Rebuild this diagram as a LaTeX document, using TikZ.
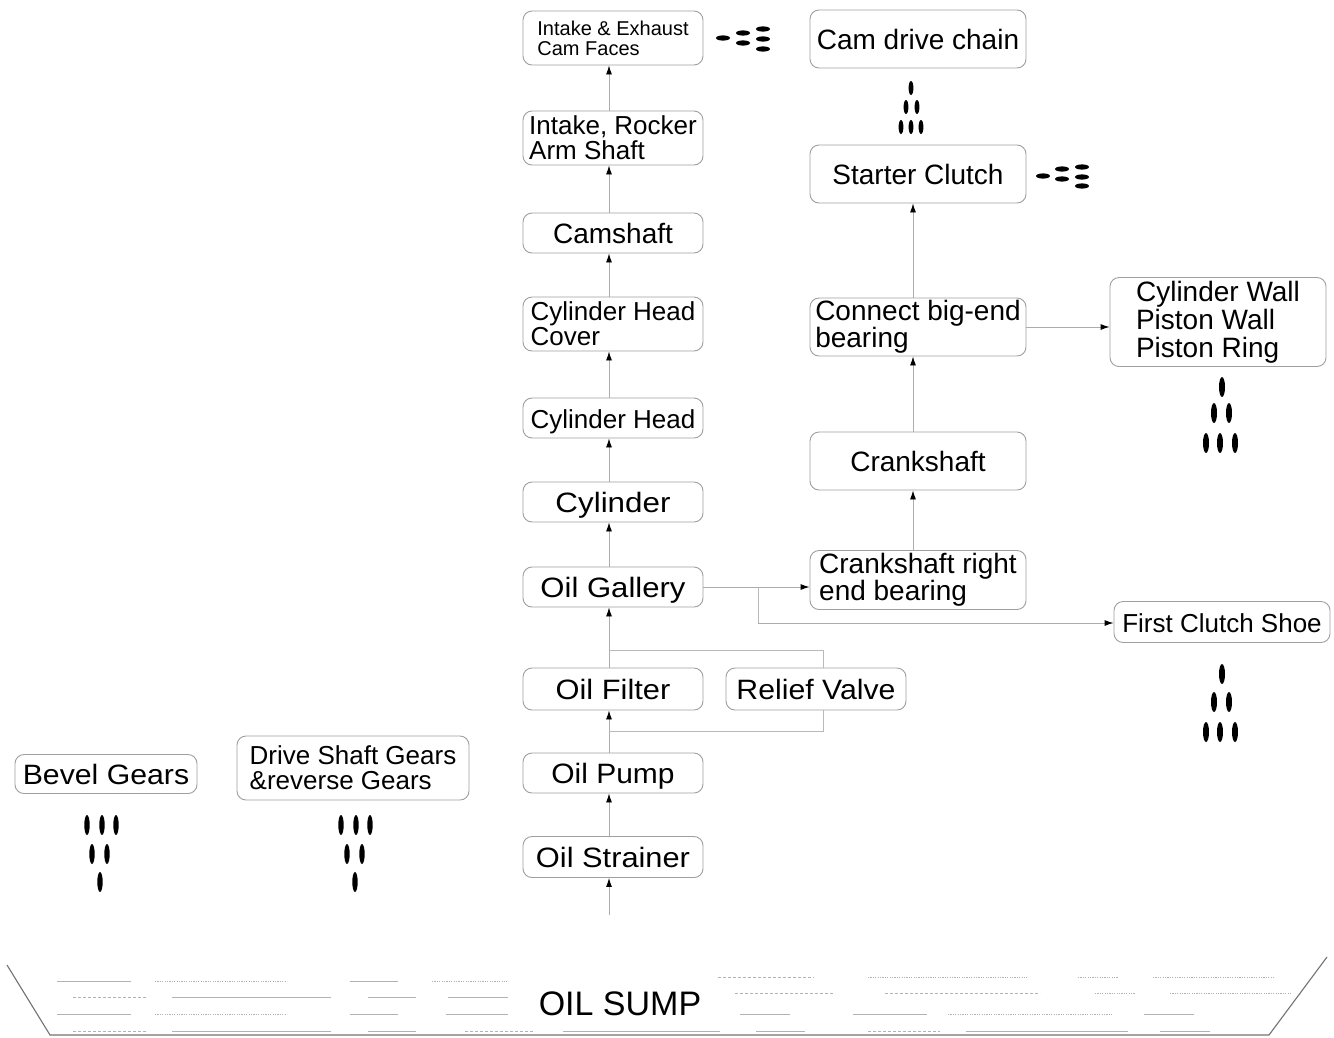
\documentclass[tikz,border=0pt]{standalone}
\usepackage{fontspec}
\setmainfont{Liberation Sans}
\usetikzlibrary{arrows.meta}
\newcommand\fsb[2]{\fontsize{#1}{#2}\selectfont}
\newcommand\wx[2]{\scalebox{#1}[1]{#2}}
\begin{document}
\begin{tikzpicture}[x=1pt,y=-1pt,
  box/.style={draw=gray!75, rounded corners=9pt, fill=white, inner sep=0pt, line width=0.9pt, align=left, font=\fsb{28}{28}},
  one/.style={text height=20pt, text depth=0pt},
  arr/.style={draw=gray!65, line width=0.9pt, -{Latex[length=9pt,width=6pt,color=black]}},
  ln/.style={draw=gray!55, line width=0.9pt},
  sol/.style={draw=gray!60, line width=0.8pt},
  dsh/.style={draw=gray!60, line width=0.8pt, dash pattern=on 3pt off 2pt},
  dtt/.style={draw=gray!60, line width=0.8pt, dash pattern=on 1.2pt off 1.2pt},
  drop/.style={fill=black}]
\useasboundingbox[fill=white] (0,0) rectangle (1334,1037);
% left column
\node[box, minimum width=180pt, minimum height=54pt, font=\fsb{20}{20}] (ie) at (613,38) {Intake \& Exhaust\\Cam Faces};
\node[box, minimum width=180pt, minimum height=54pt, font=\fsb{26}{25}] (ras) at (613,138) {Intake, Rocker\\Arm Shaft};
\node[box, one, minimum width=180pt, minimum height=40pt] (cam) at (613,233) {Camshaft};
\node[box, minimum width=180pt, minimum height=54pt, font=\fsb{26}{25}] (chc) at (613,324) {Cylinder Head\\Cover};
\node[box, one, minimum width=180pt, minimum height=40pt, font=\fsb{26}{26}] (ch) at (613,418) {Cylinder Head};
\node[box, one, minimum width=180pt, minimum height=40pt] (cyl) at (613,502) {\wx{1.12}{Cylinder}};
\node[box, one, minimum width=180pt, minimum height=40pt] (gal) at (613,587) {\wx{1.11}{Oil Gallery}};
\node[box, one, minimum width=180pt, minimum height=42pt] (flt) at (613,689) {\wx{1.10}{Oil Filter}};
\node[box, one, minimum width=180pt, minimum height=42pt] (rv) at (816,689) {\wx{1.08}{Relief Valve}};
\node[box, one, minimum width=180pt, minimum height=40pt] (pump) at (613,773) {\wx{1.07}{Oil Pump}};
\node[box, one, minimum width=180pt, minimum height=41pt] (str) at (613,857) {\wx{1.10}{Oil Strainer}};
% right column
\node[box, one, minimum width=216pt, minimum height=58pt] (cdc) at (918,39) {Cam drive chain};
\node[box, one, minimum width=216pt, minimum height=58pt] (sc) at (918,174) {Starter Clutch};
\node[box, minimum width=216pt, minimum height=58pt, font=\fsb{28}{26}] (cbe) at (918,327) {Connect big-end\\bearing};
\node[box, one, minimum width=216pt, minimum height=58pt] (cs) at (918,461) {Crankshaft};
\node[box, minimum width=216pt, minimum height=59pt, font=\fsb{28}{26}] (crb) at (918,580) {Crankshaft right\\end bearing};
\node[box, minimum width=216pt, minimum height=89pt, font=\fsb{28}{28}] (cw) at (1218,322) {Cylinder Wall\\Piston Wall\\Piston Ring};
\node[box, one, minimum width=216pt, minimum height=41pt, font=\fsb{26}{26}] (fcs) at (1222,622) {First Clutch Shoe};
% left gears
\node[box, one, minimum width=182pt, minimum height=39pt] (bev) at (106,774) {\wx{1.08}{Bevel Gears}};
\node[box, minimum width=232pt, minimum height=64pt, font=\fsb{26}{25}] (dsg) at (353,768) {Drive Shaft Gears\\\&reverse Gears};
% connectors
\coordinate (vx) at (609,0);
\coordinate (vr) at (913,0);
\coordinate (rvx) at (823,0);
\coordinate (in) at (609,915);
\coordinate (j1) at (609,731);
\coordinate (j2) at (609,650);
\coordinate (br) at (758,623);
\draw[arr] (in) -- (str.south -| vx);
\draw[arr] (str.north -| vx) -- (pump.south -| vx);
\draw[arr] (pump.north -| vx) -- (flt.south -| vx);
\draw[arr] (flt.north -| vx) -- (gal.south -| vx);
\draw[arr] (gal.north -| vx) -- (cyl.south -| vx);
\draw[arr] (cyl.north -| vx) -- (ch.south -| vx);
\draw[arr] (ch.north -| vx) -- (chc.south -| vx);
\draw[arr] (chc.north -| vx) -- (cam.south -| vx);
\draw[arr] (cam.north -| vx) -- (ras.south -| vx);
\draw[arr] (ras.north -| vx) -- (ie.south -| vx);
\draw[ln] (j1) -| (rv.south -| rvx);
\draw[ln] (j2) -| (rv.north -| rvx);
\draw[arr] (gal.east) -- (gal.east -| crb.west);
\draw[ln] (gal.east -| br) -- (br);
\draw[arr] (br) -- (br -| fcs.west);
\draw[arr] (crb.north -| vr) -- (cs.south -| vr);
\draw[arr] (cs.north -| vr) -- (cbe.south -| vr);
\draw[arr] (cbe.north -| vr) -- (sc.south -| vr);
\draw[arr] (cbe.east) -- (cbe.east -| cw.west);
% vertical drops (pyramids)
\foreach \p in {(911,88),(906,107),(917,107),(901,127),(911,127),(921,127)}
  \fill[drop] \p ellipse [x radius=2.4pt, y radius=7pt];
\foreach \p in {(1222,387),(1214,413),(1229,413),(1206,443),(1220,443),(1235,443)}
  \fill[drop] \p ellipse [x radius=3pt, y radius=10pt];
\foreach \p in {(1222,674),(1214,702),(1229,702),(1206,732),(1220,732),(1235,732)}
  \fill[drop] \p ellipse [x radius=3pt, y radius=10pt];
\foreach \p in {(87,825),(102,825),(116,825),(92,854),(107,854),(100,882)}
  \fill[drop] \p ellipse [x radius=2.7pt, y radius=10pt];
\foreach \p in {(341,825),(356,825),(370,825),(347,854),(362,854),(355,882)}
  \fill[drop] \p ellipse [x radius=2.7pt, y radius=10pt];
% horizontal drops
\foreach \p in {(723,38),(743,33),(743,43),(763,29),(763,39),(763,49)}
  \fill[drop] \p ellipse [x radius=7pt, y radius=2.6pt];
\foreach \p in {(1043,176),(1062,169),(1062,179),(1082,167),(1082,177),(1082,186)}
  \fill[drop] \p ellipse [x radius=7pt, y radius=2.6pt];
% oil sump
\draw[draw=gray!90!black, line width=1.1pt] (7,965) -- (50,1035) -- (1269,1035) -- (1327,957);
\node[font=\fsb{34}{34}] (sump) at (620,1004) {OIL SUMP};
\draw[sol] (57,981) -- (131,981);  \draw[dtt] (155,981) -- (287,981);
\draw[sol] (350,981) -- (398,981); \draw[dtt] (432,981) -- (507,981);
\draw[dsh] (73,997) -- (147,997);  \draw[sol] (172,997) -- (331,997);
\draw[sol] (368,997) -- (416,997); \draw[sol] (448,997) -- (508,997);
\draw[sol] (57,1014) -- (131,1014);  \draw[dtt] (155,1014) -- (287,1014);
\draw[sol] (350,1014) -- (398,1014); \draw[sol] (446,1014) -- (508,1014);
\draw[dsh] (73,1031) -- (147,1031);  \draw[sol] (172,1031) -- (331,1031);
\draw[sol] (368,1031) -- (416,1031); \draw[dsh] (465,1031) -- (535,1031);
\draw[sol] (563,1031) -- (720,1031);
\draw[dsh] (718,977) -- (814,977);  \draw[dtt] (868,977) -- (1027,977);
\draw[dtt] (1078,977) -- (1118,977); \draw[dtt] (1153,977) -- (1275,977);
\draw[dsh] (735,993) -- (835,993);  \draw[dsh] (885,993) -- (1040,993);
\draw[dtt] (1095,993) -- (1135,993); \draw[dtt] (1170,993) -- (1292,993);
\draw[sol] (740,1014) -- (790,1014);  \draw[sol] (853,1014) -- (927,1014);
\draw[dtt] (948,1014) -- (1112,1014); \draw[sol] (1144,1014) -- (1194,1014);
\draw[sol] (756,1031) -- (805,1031);  \draw[dsh] (868,1031) -- (940,1031);
\draw[sol] (966,1031) -- (1128,1031); \draw[sol] (1160,1031) -- (1210,1031);
\end{tikzpicture}
\end{document}
